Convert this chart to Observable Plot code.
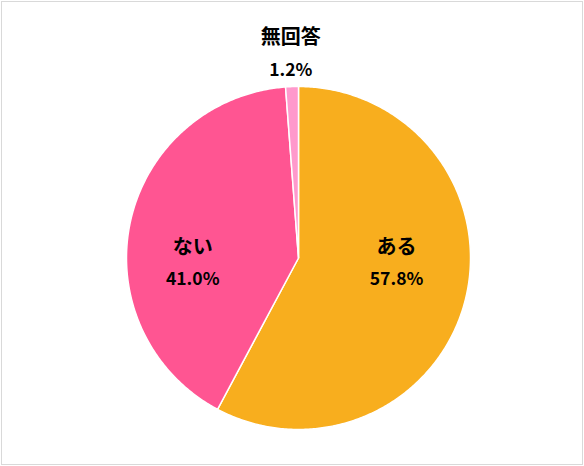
<!DOCTYPE html>
<html>
<head>
<meta charset="utf-8">
<script src="https://cdn.jsdelivr.net/npm/d3@7"></script>
<script src="https://cdn.jsdelivr.net/npm/@observablehq/plot@0.6"></script>
<style>
  body { margin: 0; background: #fff; }
  #chart svg { display: block; outline: 1px solid #d9d9d9; outline-offset: -2px; }
</style>
</head>
<body>
<div id="chart"></div>
<script>
const categories = ["ある", "ない", "無回答"];
const values = [57.8, 41.0, 1.2];
const colors = ["#F8AE1E", "#FF5592", "#FF99CC"];
const percentLabels = ["57.8%", "41.0%", "1.2%"];

// build slice polygons in data units (unit circle)
const pie = d3.pie().sort(null).value(d => d.value)(
  categories.map((c, i) => ({ category: c, value: values[i] }))
);
const pts = [];
pie.forEach(s => {
  const c = s.data.category;
  pts.push({ category: c, x: 0, y: 0 });
  const n = Math.max(2, Math.ceil((s.endAngle - s.startAngle) / 0.01));
  for (let k = 0; k <= n; k++) {
    const a = s.startAngle + (s.endAngle - s.startAngle) * k / n;
    pts.push({ category: c, x: Math.sin(a), y: Math.cos(a) });
  }
});

// label anchors (data units) placed like the reference
const labelPos = {
  "ある": { x: 0.57, y1: 0.06, y2: -0.125 },
  "ない": { x: -0.615, y1: 0.06, y2: -0.125 },
  "無回答": { x: -0.045, y1: 1.285, y2: 1.095 }
};
const nameLabels = categories.map(c => ({ text: c, x: labelPos[c].x, y: labelPos[c].y1 }));
const pctLabels = categories.map((c, i) => ({ text: percentLabels[i], x: labelPos[c].x, y: labelPos[c].y2 }));

const font = "'Noto Sans CJK JP', 'Noto Sans', sans-serif";

const chart = Plot.plot({
  width: 584,
  height: 466,
  marginLeft: 126,
  marginRight: 114,
  marginTop: 86,
  marginBottom: 37,
  x: { domain: [-1, 1], axis: null },
  y: { domain: [-1, 1], axis: null },
  color: { domain: categories, range: colors },
  style: { background: "#fff", fontFamily: font },
  marks: [
    Plot.line(pts, {
      x: "x", y: "y", z: "category",
      fill: "category",
      stroke: "#fff",
      strokeWidth: 1.5,
      curve: "linear-closed"
    }),
    Plot.text(nameLabels, {
      x: "x", y: "y", text: "text",
      fontSize: 20, fontWeight: "bold", fill: "#000", fontFamily: font
    }),
    Plot.text(pctLabels, {
      x: "x", y: "y", text: "text",
      fontSize: 17.5, fontWeight: "bold", fill: "#000", fontFamily: font
    })
  ]
});
document.getElementById("chart").append(chart);
</script>
</body>
</html>
